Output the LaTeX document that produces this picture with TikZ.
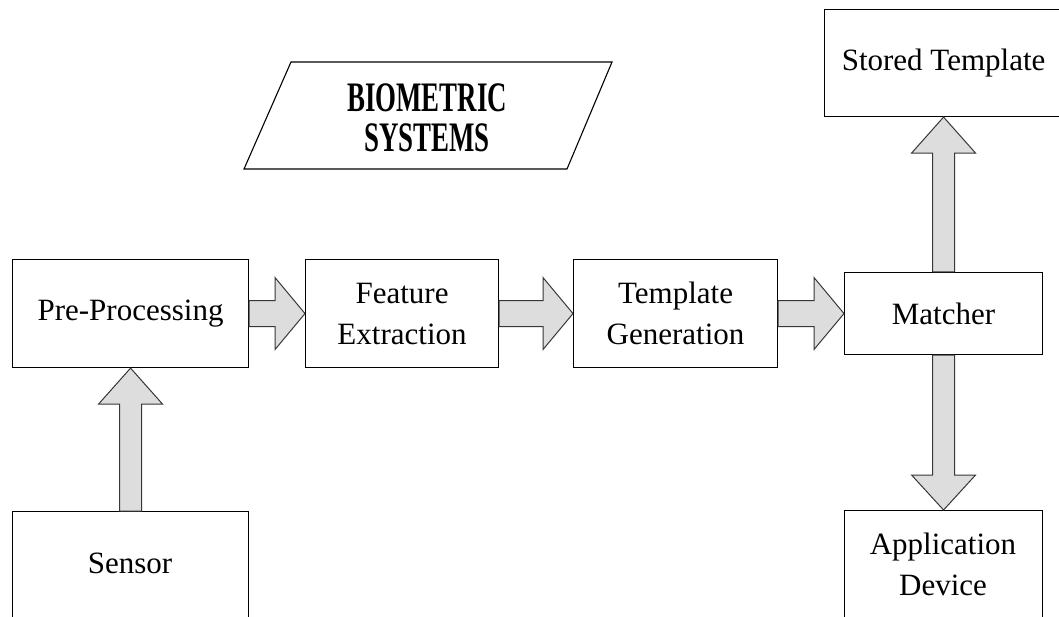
\documentclass[tikz,border=0pt]{standalone}
\usepackage{fontspec}
\setmainfont{Liberation Serif}
\usepackage{graphicx}
\usetikzlibrary{calc}
\definecolor{arrowfill}{RGB}{221,221,221}
\definecolor{arrowline}{RGB}{55,55,55}
\tikzset{
  box/.style={draw=black, line width=1.1pt, fill=white, inner sep=0pt, align=center,
              anchor=north west, font=\fontsize{31}{41}\selectfont},
  lbl/.style={inner sep=0pt, align=center, font=\fontsize{31}{41}\selectfont},
  blockarrow/.style={draw=arrowline, fill=arrowfill, line width=1pt, line join=miter},
  titletext/.style={inner sep=0pt, align=center, font=\fontsize{42}{40}\selectfont\bfseries},
}
\newcommand\blkright[2]{\draw[blockarrow] let \p1=(#1.east), \p2=(#2.west) in
  (\x1,\y1+13pt) -- (\x2-30pt,\y1+13pt) -- (\x2-30pt,\y1+36pt) -- (\x2,\y1)
  -- (\x2-30pt,\y1-36pt) -- (\x2-30pt,\y1-13pt) -- (\x1,\y1-13pt) -- cycle;}
\newcommand\blkup[2]{\draw[blockarrow] let \p1=(#1.north), \p2=(#2.south) in
  (\x1-11pt,\y1) -- (\x1-11pt,\y2-36pt) -- (\x1-32pt,\y2-36pt) -- (\x1,\y2)
  -- (\x1+32pt,\y2-36pt) -- (\x1+11pt,\y2-36pt) -- (\x1+11pt,\y1) -- cycle;}
\newcommand\blkdown[2]{\draw[blockarrow] let \p1=(#1.south), \p2=(#2.north) in
  (\x1-11pt,\y1) -- (\x1-11pt,\y2+35pt) -- (\x1-32pt,\y2+35pt) -- (\x1,\y2)
  -- (\x1+32pt,\y2+35pt) -- (\x1+11pt,\y2+35pt) -- (\x1+11pt,\y1) -- cycle;}
\begin{document}
\begin{tikzpicture}[x=1pt,y=-1pt]
\useasboundingbox (0,0) rectangle (1059,617);
\clip (0,0) rectangle (1059,617);
\fill[white] (0,0) rectangle (1059,617);

% title parallelogram
\coordinate (t1) at (291,62);
\coordinate (t2) at (612,62);
\coordinate (t3) at (567,169);
\coordinate (t4) at (244,169);
\draw[line width=1.1pt, line join=miter] (t1) -- (t2) -- (t3) -- (t4) -- cycle;
\node[titletext] (title) at (427,118) {\scalebox{0.64}[1]{BIOMETRIC}\\\scalebox{0.64}[1]{SYSTEMS}};

% boxes
\node[box, minimum width=236pt, minimum height=108pt] (pre) at (12,259) {Pre-Processing};
\node[box, minimum width=193pt, minimum height=108pt] (feat) at (305,259) {Feature\\Extraction};
\node[box, minimum width=204pt, minimum height=108pt] (tmpl) at (573,259) {Template\\Generation};
\node[box, minimum width=198pt, minimum height=82pt] (match) at (844,272) {Matcher};
\node[box, minimum width=238pt, minimum height=107pt] (stored) at (824,9) {};
\node[lbl] (storedlbl) at (stored.center) {Stored Template};
\node[box, minimum width=236pt, minimum height=130pt] (sensor) at (12,511) {};
\node[lbl] (sensorlbl) at (130,563) {Sensor};
\node[box, minimum width=198pt, minimum height=130pt] (app) at (844,510) {};
\node[lbl] (applbl) at (943,564) {Application\\Device};

% block arrows
\blkright{pre}{feat}
\blkright{feat}{tmpl}
\blkright{tmpl}{match}
\blkup{sensor}{pre}
\blkup{match}{stored}
\blkdown{match}{app}
\end{tikzpicture}
\end{document}
